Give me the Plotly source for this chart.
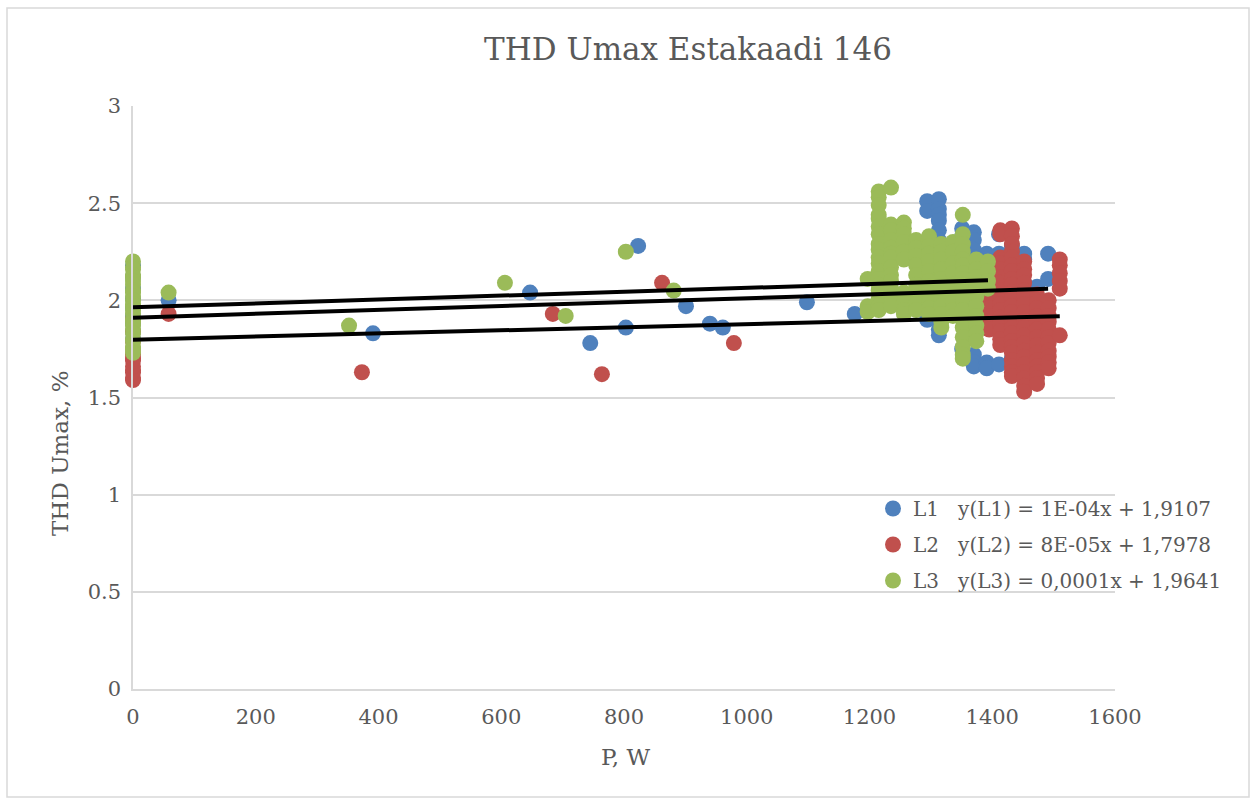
import plotly.graph_objects as go

# Phase series: active power P (W) vs. THD of max voltage (%)
L1_x = [0, 0, 0, 0, 0, 0, 0, 0, 0, 58, 391, 647, 745, 803, 823, 901, 940, 961, 1098, 1176,
        1294, 1294, 1294, 1294, 1294, 1294, 1294,
        1313, 1313, 1313, 1313, 1313, 1313, 1313, 1313, 1313, 1313,
        1333, 1333, 1333,
        1351, 1351, 1351, 1351, 1351,
        1370, 1370, 1370, 1370, 1370, 1370, 1370, 1370,
        1391, 1391, 1391, 1391, 1391,
        1411, 1411, 1411, 1411,
        1432, 1432, 1432, 1432, 1432, 1432,
        1452, 1452, 1452, 1452,
        1473, 1473, 1473,
        1491, 1491]
L1_y = [2.18, 2.12, 2.06, 2.01, 1.96, 1.92, 1.88, 1.84, 1.80, 2.00, 1.83, 2.04, 1.78, 1.86, 2.28, 1.97, 1.88, 1.86, 1.99, 1.93,
        2.51, 2.46, 2.30, 2.10, 2.01, 1.93, 1.90,
        2.52, 2.47, 2.44, 2.41, 2.36, 2.31, 2.25, 2.19, 1.85, 1.82,
        2.22, 2.10, 1.97,
        2.37, 2.33, 2.28, 2.22, 1.75,
        2.35, 2.31, 2.26, 2.22, 2.16, 1.72, 1.68, 1.66,
        2.24, 2.20, 2.15, 1.68, 1.65,
        2.34, 2.24, 2.21, 1.67,
        2.28, 2.24, 2.19, 2.12, 2.05, 1.70,
        2.24, 2.21, 2.09, 1.75,
        2.07, 2.02, 1.80,
        2.24, 2.11]

L2_x = [0, 0, 0, 0, 0, 0, 0, 0, 0, 0, 0, 0, 58, 373, 684, 764, 862, 979,
        1395, 1395, 1395, 1395, 1395, 1395, 1395,
        1413, 1413, 1413, 1413, 1413, 1413, 1413, 1413, 1413, 1413, 1413, 1413, 1413, 1413, 1413, 1413,
        1432, 1432, 1432, 1432, 1432, 1432, 1432, 1432, 1432, 1432, 1432, 1432, 1432, 1432, 1432, 1432,
        1432, 1432, 1432, 1432, 1432, 1432, 1432,
        1452, 1452, 1452, 1452, 1452, 1452, 1452, 1452, 1452, 1452, 1452, 1452, 1452, 1452, 1452, 1452,
        1452, 1452, 1452,
        1473, 1473, 1473, 1473, 1473, 1473, 1473, 1473, 1473, 1473, 1473, 1473, 1473, 1473,
        1492, 1492, 1492, 1492, 1492, 1492, 1492, 1492, 1492, 1492, 1492,
        1510, 1510, 1510, 1510, 1510, 1510]
L2_y = [1.59, 1.60, 1.63, 1.64, 1.66, 1.69, 1.70, 1.72, 1.75, 1.79, 1.84, 1.90, 1.93, 1.63, 1.93, 1.62, 2.09, 1.78,
        2.08, 2.04, 2.00, 1.96, 1.92, 1.88, 1.85,
        2.36, 2.34, 2.22, 2.19, 2.16, 2.12, 2.09, 2.05, 2.02, 1.98, 1.95, 1.91, 1.88, 1.84, 1.80, 1.77,
        2.37, 2.33, 2.29, 2.25, 2.22, 2.18, 2.15, 2.11, 2.08, 2.04, 2.01, 1.97, 1.94, 1.90, 1.86, 1.83,
        1.79, 1.76, 1.73, 1.69, 1.66, 1.63, 1.61,
        2.20, 2.16, 2.13, 2.09, 2.05, 2.02, 1.98, 1.94, 1.90, 1.86, 1.82, 1.78, 1.74, 1.71, 1.67, 1.63,
        1.60, 1.56, 1.53,
        2.03, 1.99, 1.96, 1.92, 1.88, 1.85, 1.81, 1.77, 1.73, 1.69, 1.66, 1.63, 1.60, 1.57,
        2.00, 1.96, 1.92, 1.89, 1.85, 1.81, 1.78, 1.74, 1.71, 1.68, 1.65,
        2.21, 2.18, 2.14, 2.10, 2.06, 1.82]

L3_x = [0, 0, 0, 0, 0, 0, 0, 0, 0, 0, 0, 0, 0, 0, 0, 0, 0, 0, 0, 0, 0, 0, 0, 0, 0,
        58, 352, 606, 705, 803, 881,
        1197, 1197, 1197,
        1215, 1215, 1215, 1215, 1215, 1215, 1215, 1215, 1215, 1215, 1215, 1215, 1215, 1215, 1215, 1215,
        1215, 1215,
        1235, 1235, 1235, 1235, 1235, 1235, 1235, 1235, 1235, 1235, 1235, 1235, 1235, 1235,
        1256, 1256, 1256, 1256, 1256, 1256, 1256, 1256, 1256, 1256,
        1276, 1276, 1276, 1276, 1276, 1276, 1276, 1276, 1276, 1276,
        1297, 1297, 1297, 1297, 1297, 1297, 1297, 1297, 1297, 1297, 1297,
        1317, 1317, 1317, 1317, 1317, 1317, 1317, 1317, 1317, 1317, 1317,
        1336, 1336, 1336, 1336, 1336, 1336, 1336, 1336, 1336,
        1352, 1352, 1352, 1352, 1352, 1352, 1352, 1352, 1352, 1352, 1352, 1352, 1352, 1352, 1352,
        1352, 1352, 1352,
        1374, 1374, 1374, 1374, 1374, 1374, 1374, 1374, 1374, 1374,
        1393, 1393, 1393, 1393]
L3_y = [2.20, 2.17, 2.16, 2.13, 2.12, 2.10, 2.08, 2.05, 2.04, 2.02, 2.00, 1.98, 1.97, 1.95, 1.93,
        1.90, 1.89, 1.87, 1.85, 1.83, 1.80, 1.79, 1.76, 1.75, 1.73,
        2.04, 1.87, 2.09, 1.92, 2.25, 2.05,
        2.11, 1.97, 1.94,
        2.56, 2.53, 2.49, 2.44, 2.42, 2.38, 2.34, 2.29, 2.26, 2.22, 2.19, 2.15, 2.11, 2.08, 2.05, 2.01,
        1.97, 1.95,
        2.58, 2.39, 2.36, 2.31, 2.27, 2.24, 2.22, 2.17, 2.13, 2.10, 2.06, 2.02, 1.99, 1.97,
        2.40, 2.37, 2.34, 2.30, 2.25, 2.21, 2.04, 1.99, 1.95, 1.93,
        2.31, 2.27, 2.23, 2.18, 2.13, 2.08, 2.05, 2.02, 1.98, 1.95,
        2.33, 2.28, 2.24, 2.20, 2.15, 2.10, 2.07, 2.04, 1.99, 1.96, 1.93,
        2.29, 2.25, 2.21, 2.16, 2.11, 2.06, 2.01, 1.97, 1.93, 1.89, 1.86,
        2.30, 2.25, 2.19, 2.14, 2.08, 2.03, 1.99, 1.95, 1.92,
        2.44, 2.34, 2.29, 2.25, 2.21, 2.18, 2.14, 2.11, 2.08, 2.05, 2.00, 1.95, 1.90, 1.86, 1.81,
        1.76, 1.72, 1.70,
        2.21, 2.16, 2.12, 2.07, 2.02, 1.97, 1.92, 1.87, 1.83, 1.79,
        2.20, 2.15, 2.10, 2.06]

# Linear trend coefficients (slope, intercept) as shown in the legend
names = ["L1", "L2", "L3"]
slopes = [1e-4, 8e-5, 0.0001]
intercepts = [1.9107, 1.7978, 1.9641]
equations = ["y(L1) = 1E-04x + 1,9107", "y(L2) = 8E-05x + 1,7978", "y(L3) = 0,0001x + 1,9641"]
colors = ["#4f81bd", "#c0504d", "#9bbb59"]

x_ticks = [0, 200, 400, 600, 800, 1000, 1200, 1400, 1600]
y_ticks = [0, 0.5, 1, 1.5, 2, 2.5, 3]
y_tick_text = ["0", "0.5", "1", "1.5", "2", "2.5", "3"]

FONT = "DejaVu Serif"
GRAY = "#595959"
LINE = "#d9d9d9"

series = [(L1_x, L1_y), (L2_x, L2_y), (L3_x, L3_y)]

fig = go.Figure()

for (xs, ys), name, eq, col in zip(series, names, equations, colors):
    fig.add_trace(go.Scatter(
        x=xs, y=ys, mode="markers", name=name + "\u00a0\u00a0\u00a0" + eq,
        legendgroup=name,
        marker=dict(color=col, size=16, line=dict(width=0)),
        cliponaxis=False))

# Trend lines over each series' own x-range, drawn on top of the markers
for (xs, ys), k, b in zip(series, slopes, intercepts):
    x0, x1 = min(xs), max(xs)
    fig.add_trace(go.Scatter(
        x=[x0, x1], y=[k * x0 + b, k * x1 + b], mode="lines",
        line=dict(color="black", width=4), showlegend=False, hoverinfo="skip"))

W, H = 1250, 798
L, R, T, B = 133, 135, 106, 109
pw, ph = W - L - R, H - T - B


def px_x(p):
    return (p - L) / pw


def px_y(p):
    return (H - B - p) / ph


fig.update_layout(
    width=W, height=H,
    margin=dict(l=L, r=R, t=T, b=B),
    paper_bgcolor="white", plot_bgcolor="white",
    font=dict(family=FONT, color=GRAY, size=20),
    title=dict(text="THD Umax Estakaadi 146", x=688 / W, xanchor="center",
               y=1 - 49 / H, yanchor="middle",
               font=dict(family=FONT, size=31, color=GRAY)),
    xaxis=dict(range=[0, 1600], tickvals=x_ticks, ticktext=[str(v) for v in x_ticks],
               showgrid=False, zeroline=False, showline=True, linecolor=LINE, linewidth=1.5,
               ticks="", ticklabelstandoff=8,
               tickfont=dict(family=FONT, size=21, color=GRAY)),
    yaxis=dict(range=[0, 3], tickvals=y_ticks, ticktext=y_tick_text,
               showgrid=True, gridcolor=LINE, gridwidth=1.5, zeroline=False,
               showline=True, linecolor=LINE, linewidth=1.5,
               ticks="", ticklabelstandoff=6,
               tickfont=dict(family=FONT, size=21, color=GRAY)),
    legend=dict(x=px_x(873), y=px_y(489), xanchor="left", yanchor="top",
                bgcolor="rgba(0,0,0,0)", font=dict(family=FONT, size=20, color=GRAY),
                tracegroupgap=7),
    showlegend=True,
    annotations=[
        dict(text="THD Umax, %", textangle=-90, xref="paper", yref="paper",
             x=px_x(60), y=px_y(453), xanchor="center", yanchor="middle",
             showarrow=False, font=dict(family=FONT, size=23, color=GRAY)),
        dict(text="P, W", xref="paper", yref="paper",
             x=px_x(625), y=px_y(757), xanchor="center", yanchor="middle",
             showarrow=False, font=dict(family=FONT, size=23, color=GRAY)),
    ],
    shapes=[dict(type="rect", xref="paper", yref="paper",
                 x0=px_x(7), x1=px_x(1249), y0=px_y(797), y1=px_y(8),
                 line=dict(color=LINE, width=1.5), layer="below")],
)

fig.write_html("out.html")
